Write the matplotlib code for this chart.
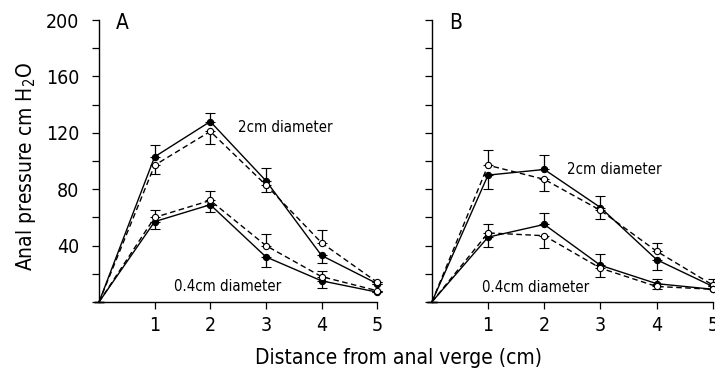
import matplotlib
matplotlib.use("Agg")
import matplotlib.pyplot as plt
from matplotlib.ticker import MultipleLocator

plt.rcParams['font.family'] = ['DejaVu Sans']
plt.rcParams['font.stretch'] = 'condensed'

distance = [0, 1, 2, 3, 4, 5]

# Panel A
a_big_filled = [0, 103, 128, 86, 33, 13]
a_big_filled_lo = [0, 0, 0, 0, 5, 0]
a_big_filled_hi = [0, 8, 6, 9, 0, 0]
a_big_open = [0, 97, 121, 83, 42, 14]
a_big_open_lo = [0, 6, 9, 5, 0, 0]
a_big_open_hi = [0, 0, 0, 0, 9, 0]
a_small_filled = [0, 57, 69, 32, 15, 7]
a_small_filled_lo = [0, 5, 5, 7, 5, 0]
a_small_filled_hi = [0, 0, 0, 0, 0, 0]
a_small_open = [0, 60, 72, 40, 18, 8]
a_small_open_lo = [0, 0, 0, 0, 0, 0]
a_small_open_hi = [0, 5, 7, 8, 4, 0]

# Panel B
b_big_filled = [0, 90, 94, 67, 30, 11]
b_big_filled_lo = [0, 10, 0, 0, 7, 0]
b_big_filled_hi = [0, 0, 10, 8, 0, 0]
b_big_open = [0, 97, 87, 65, 36, 12]
b_big_open_lo = [0, 0, 8, 6, 0, 0]
b_big_open_hi = [0, 11, 0, 0, 6, 4]
b_small_filled = [0, 46, 55, 26, 13, 9]
b_small_filled_lo = [0, 7, 0, 0, 0, 0]
b_small_filled_hi = [0, 0, 8, 8, 3, 0]
b_small_open = [0, 49, 47, 24, 11, 9]
b_small_open_lo = [0, 0, 9, 6, 2, 0]
b_small_open_hi = [0, 6, 0, 0, 0, 0]

fig = plt.figure(figsize=(7.15, 3.8), dpi=100)
ax_a = fig.add_axes([0.1385, 0.2053, 0.389, 0.742])
ax_b = fig.add_axes([0.604, 0.2053, 0.393, 0.742])


def draw_series(ax, y, lo, hi, filled):
    # no marker at the origin, the lines just start there
    ax.errorbar(distance, y, yerr=[lo, hi], color='black', lw=1.0,
                ls='-' if filled else (0, (4, 2.5)),
                marker='o', ms=4.5, markevery=range(1, len(distance)),
                mfc='black' if filled else 'white', mec='black', mew=0.8,
                ecolor='black', elinewidth=0.9, capsize=3.5, capthick=0.9,
                clip_on=False, zorder=3)


def style_axis(ax, show_labels):
    ax.set_xlim(0, 5)
    ax.set_ylim(0, 200)
    for side in ('top', 'right'):
        ax.spines[side].set_visible(False)
    ax.spines['left'].set_linewidth(1.0)
    ax.spines['bottom'].set_linewidth(1.0)
    ax.set_xticks([1, 2, 3, 4, 5])
    ax.set_yticks([40, 80, 120, 160, 200])
    ax.yaxis.set_minor_locator(MultipleLocator(20))
    ax.tick_params(axis='both', which='both', direction='out', width=0.9)
    ax.tick_params(axis='both', which='major', length=5, labelsize=14)
    ax.tick_params(axis='y', which='minor', length=5)
    ax.tick_params(axis='x', pad=5)
    ax.tick_params(axis='y', pad=9)
    if not show_labels:
        ax.set_yticklabels([])


draw_series(ax_a, a_big_filled, a_big_filled_lo, a_big_filled_hi, True)
draw_series(ax_a, a_big_open, a_big_open_lo, a_big_open_hi, False)
draw_series(ax_a, a_small_filled, a_small_filled_lo, a_small_filled_hi, True)
draw_series(ax_a, a_small_open, a_small_open_lo, a_small_open_hi, False)
style_axis(ax_a, True)
ax_a.text(2.5, 124, '2cm diameter', fontsize=10.7, va='center')
ax_a.text(1.35, 11, '0.4cm diameter', fontsize=10.7, va='center')
ax_a.text(0.3, 198, 'A', fontsize=15, va='center')
ax_a.set_ylabel('Anal pressure cm H$_2$O', fontsize=15)
ax_a.yaxis.set_label_coords(-0.22, 0.48)

draw_series(ax_b, b_big_filled, b_big_filled_lo, b_big_filled_hi, True)
draw_series(ax_b, b_big_open, b_big_open_lo, b_big_open_hi, False)
draw_series(ax_b, b_small_filled, b_small_filled_lo, b_small_filled_hi, True)
draw_series(ax_b, b_small_open, b_small_open_lo, b_small_open_hi, False)
style_axis(ax_b, False)
ax_b.text(2.4, 94, '2cm diameter', fontsize=10.7, va='center')
ax_b.text(0.9, 10, '0.4cm diameter', fontsize=10.7, va='center')
ax_b.text(0.3, 198, 'B', fontsize=15, va='center')

fig.text(0.557, 0.058, 'Distance from anal verge (cm)', fontsize=15, ha='center', va='center')

fig.savefig('out.png', dpi=100)
